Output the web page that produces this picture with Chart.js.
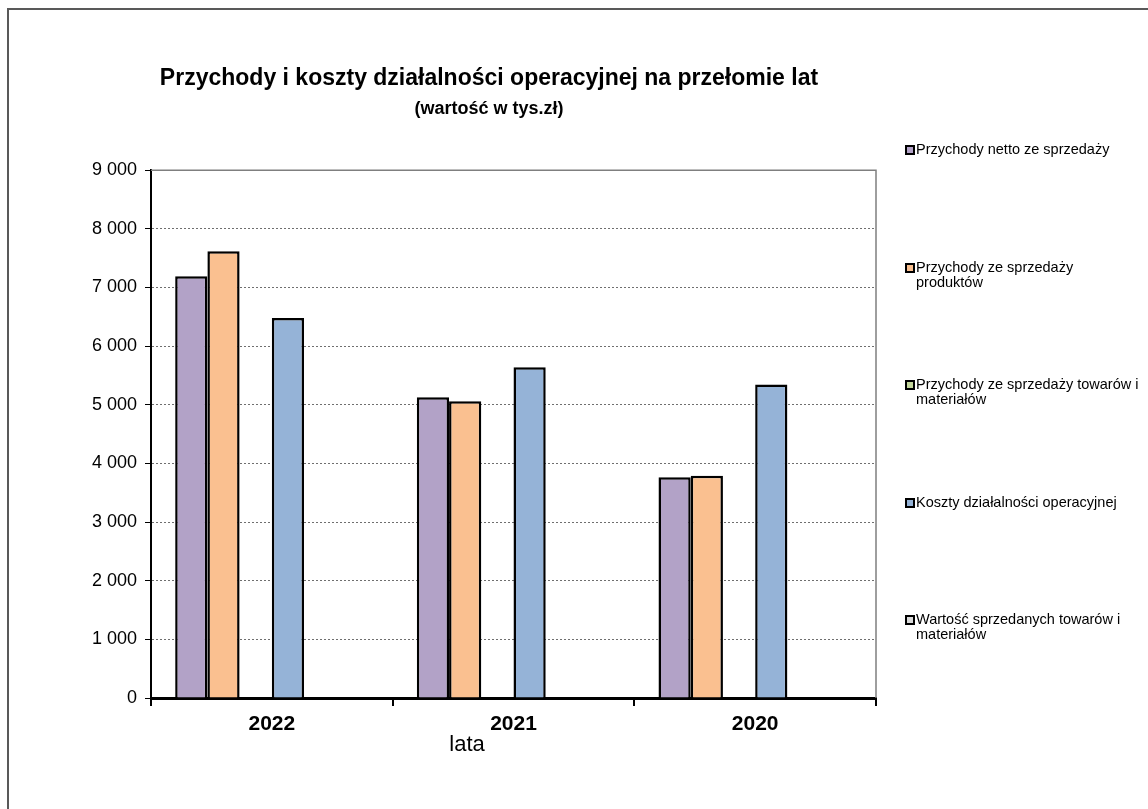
<!DOCTYPE html>
<html lang="pl">
<head>
<meta charset="utf-8">
<title>Przychody i koszty działalności operacyjnej</title>
<script src="https://cdn.jsdelivr.net/npm/chart.js@4/dist/chart.umd.min.js"></script>
<style>
  html, body { margin: 0; padding: 0; background: #fff; overflow: hidden; }
  body { width: 1148px; height: 809px; position: relative; font-family: Arial, "Liberation Sans", sans-serif; }
  #frame { position: absolute; left: 7px; top: 8px; width: 1200px; height: 900px; border: 2px solid #595959; box-sizing: border-box; }
  #wrap { position: absolute; left: 0; top: 0; width: 978px; height: 809px; }
  #legend { position: absolute; left: 905px; top: 0; width: 243px; font-size: 14.5px; color: #000; }
  .item { position: absolute; left: 0; width: 243px; line-height: 15px; }
  .box { position: absolute; left: 0; top: 3px; width: 6px; height: 6px; border: 2px solid #000; }
  .txt { position: absolute; left: 11px; top: 0; white-space: nowrap; }
</style>
</head>
<body>
<div id="frame"></div>
<div id="wrap"><canvas id="myChart" width="978" height="809"></canvas></div>
<div id="legend"></div>
<script>
// data (tys. zł)
const years = ['2022', '2021', '2020'];
const netto = [7190, 5130, 3765];          // Przychody netto ze sprzedaży
const produkty = [7620, 5060, 3790];       // Przychody ze sprzedaży produktów
const towary = [null, null, null];         // Przychody ze sprzedaży towarów i materiałów (no bars)
const koszty = [6480, 5640, 5345];         // Koszty działalności operacyjnej
const wartosc = [null, null, null];        // Wartość sprzedanych towarów i materiałów (no bars)
const pusta = [null, null, null];          // empty slot series (not in legend)

const seriesLines = [
  ['Przychody netto ze sprzedaży'],
  ['Przychody ze sprzedaży', 'produktów'],
  ['Przychody ze sprzedaży towarów i', 'materiałów'],
  ['Koszty działalności operacyjnej'],
  ['Wartość sprzedanych towarów i', 'materiałów']
];
const seriesColors = ['#B2A2C7', '#FAC090', '#C3D69B', '#95B3D7', '#D9D9D9'];
const seriesData = [netto, produkty, towary, koszty, wartosc];

const FONT = 'Arial, "Liberation Sans", sans-serif';
const fmt = v => String(v).replace(/\B(?=(\d{3})+(?!\d))/g, ' ');

const datasets = seriesData.map((d, i) => ({
  label: seriesLines[i].join(' '),
  data: d,
  backgroundColor: seriesColors[i],
  borderColor: '#000',
  borderWidth: 2.5,
  borderSkipped: 'bottom'
}));
datasets.push({ label: '', data: pusta, backgroundColor: 'transparent', borderWidth: 0 });

// grey frame on top and right of plot + axis title "lata"
const extras = {
  id: 'extras',
  beforeDatasetsDraw(chart) {
    const a = chart.chartArea, ctx = chart.ctx;
    ctx.save();
    ctx.strokeStyle = '#7f7f7f';
    ctx.lineWidth = 1.5;
    ctx.beginPath();
    ctx.moveTo(a.left, a.top);
    ctx.lineTo(a.right, a.top);
    ctx.lineTo(a.right, a.bottom);
    ctx.stroke();
    ctx.restore();
  },
  afterDraw(chart) {
    const a = chart.chartArea, ctx = chart.ctx;
    ctx.save();
    ctx.fillStyle = '#000';
    ctx.font = '22px ' + FONT;
    ctx.textAlign = 'center';
    ctx.textBaseline = 'middle';
    ctx.fillText('lata', a.left + 316, a.bottom + 47);
    ctx.restore();
  }
};

new Chart(document.getElementById('myChart'), {
  type: 'bar',
  data: { labels: years, datasets: datasets },
  plugins: [extras],
  options: {
    responsive: false,
    animation: false,
    layout: { padding: 0 },
    datasets: { bar: { categoryPercentage: 0.8, barPercentage: 1 } },
    plugins: {
      legend: { display: false },
      tooltip: { enabled: false },
      title: {
        display: true,
        text: 'Przychody i koszty działalności operacyjnej na przełomie lat',
        color: '#000',
        font: { family: FONT, size: 23, weight: 'bold', lineHeight: 1.2 },
        padding: { top: 65, bottom: 3 }
      },
      subtitle: {
        display: true,
        text: '(wartość w tys.zł)',
        color: '#000',
        font: { family: FONT, size: 18, weight: 'bold', lineHeight: 1.2 },
        padding: { top: 3, bottom: 50 }
      }
    },
    scales: {
      x: {
        offset: true,
        afterFit: s => { s.height = 111; },
        grid: { offset: true, drawOnChartArea: false, drawTicks: true, tickLength: 8, color: '#000', lineWidth: 2 },
        border: { display: true, color: '#000', width: 3 },
        ticks: {
          color: '#000', padding: 6,
          font: { family: FONT, size: 21, weight: 'bold' }
        }
      },
      y: {
        min: 0, max: 9000,
        afterFit: s => { s.width = 151; },
        grid: { color: '#6f6f6f', lineWidth: 1, tickLength: 6, tickColor: '#000', tickBorderDash: [] },
        border: { display: true, color: '#000', width: 2, dash: [2, 2] },
        ticks: {
          stepSize: 1000, color: '#000', padding: 8,
          font: { family: FONT, size: 18 },
          callback: v => fmt(v)
        }
      },
      yR: {
        position: 'right',
        afterFit: s => { s.width = 102; },
        grid: { display: false },
        border: { display: false },
        ticks: { display: false }
      }
    }
  }
});

// html legend with the wide spacing of the original
const legend = document.getElementById('legend');
seriesLines.forEach((lines, i) => {
  const item = document.createElement('div');
  item.className = 'item';
  item.style.top = (142 + i * 117.5) + 'px';
  const box = document.createElement('span');
  box.className = 'box';
  box.style.background = seriesColors[i];
  const txt = document.createElement('span');
  txt.className = 'txt';
  txt.innerHTML = lines.join('<br>');
  item.appendChild(box);
  item.appendChild(txt);
  legend.appendChild(item);
});
</script>
</body>
</html>
